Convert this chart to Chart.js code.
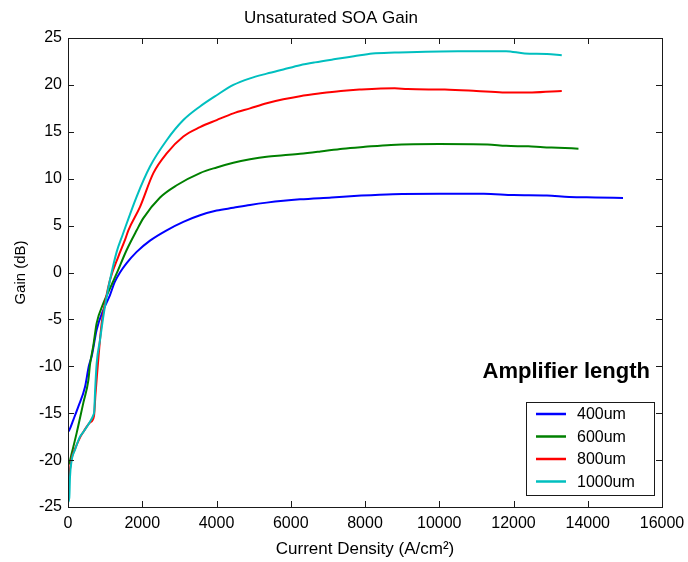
<!DOCTYPE html>
<html>
<head>
<meta charset="utf-8">
<title>Unsaturated SOA Gain</title>
<script src="https://cdn.jsdelivr.net/npm/chart.js@4.4.1/dist/chart.umd.min.js"></script>
<style>
  html, body { margin: 0; padding: 0; background: #fff; }
  canvas { display: block; }
</style>
</head>
<body>
<canvas id="gainChart" width="688" height="562"></canvas>
<script>
// current density (A/cm^2) vs unsaturated gain (dB), one pair of arrays per length
const density400 = [0, 35, 144, 278, 458, 560, 640, 772, 951, 1131, 1260, 1400, 1580, 1850, 2209, 2658, 3107, 3556, 4005, 4454, 4903, 5352, 5800, 6250, 7100, 7900, 8750, 10000, 11200, 12000, 12900, 13500, 14200, 14950];
const gain400 = [-17, -16.8, -15.7, -14.3, -12.2, -10, -8.9, -6.1, -4.0, -2.4, -1.0, 0, 1.0, 2.2, 3.4, 4.5, 5.4, 6.1, 6.6, 6.9, 7.2, 7.45, 7.65, 7.8, 8.0, 8.2, 8.35, 8.4, 8.4, 8.25, 8.2, 8.05, 8.0, 7.95];

const density600 = [0, 35, 99, 234, 413, 548, 593, 682, 772, 951, 1131, 1311, 1580, 1850, 2030, 2479, 2928, 3556, 4005, 4454, 4903, 5352, 5800, 6250, 6800, 7400, 8000, 8700, 10000, 11300, 11800, 12400, 12800, 13200, 13750];
const gain600 = [-20.5, -20.3, -19.3, -17.1, -13.9, -11.5, -9.8, -7.8, -5.4, -3.3, -1.7, -0.1, 2.4, 4.5, 5.8, 8.0, 9.3, 10.6, 11.2, 11.7, 12.07, 12.35, 12.5, 12.65, 12.9, 13.2, 13.4, 13.6, 13.7, 13.65, 13.5, 13.45, 13.35, 13.3, 13.2];

const density800 = [0, 35, 99, 189, 323, 413, 593, 700, 740, 790, 830, 907, 1000, 1131, 1356, 1535, 1626, 1940, 2299, 2658, 3107, 3556, 4005, 4454, 4903, 5352, 5800, 6250, 6800, 7350, 7850, 8800, 9150, 10150, 11000, 11700, 12500, 13300];
const gain800 = [-22.5, -21.5, -19.8, -18.8, -17.6, -17.0, -16.0, -15.3, -13, -10.5, -8.6, -5.4, -3.2, -0.8, 1.7, 3.47, 4.5, 7.0, 10.6, 12.7, 14.5, 15.5, 16.25, 16.97, 17.5, 18.04, 18.46, 18.8, 19.1, 19.35, 19.5, 19.65, 19.55, 19.5, 19.35, 19.2, 19.2, 19.35];

const density1000 = [0, 35, 54, 99, 189, 323, 413, 593, 682, 709, 727, 772, 862, 951, 1041, 1131, 1311, 1470, 1850, 2209, 2658, 3107, 3556, 4005, 4454, 4903, 5352, 5800, 6250, 6650, 7200, 7700, 8200, 8800, 10500, 11800, 12300, 12900, 13300];
const gain1000 = [-24.5, -24, -21.8, -20.0, -18.9, -17.5, -17.0, -15.9, -15.2, -14.7, -12.9, -9.7, -7.2, -4.7, -2.6, -0.8, 2.2, 4.0, 8.1, 11.3, 14.1, 16.25, 17.7, 18.9, 20.0, 20.7, 21.2, 21.65, 22.1, 22.4, 22.75, 23.05, 23.35, 23.45, 23.6, 23.6, 23.35, 23.3, 23.15];

const lengthLabels = ['400um', '600um', '800um', '1000um'];
const xTicks = [0, 2000, 4000, 6000, 8000, 10000, 12000, 14000, 16000];
const yTicks = [-25, -20, -15, -10, -5, 0, 5, 10, 15, 20, 25];

const FONT = "'Liberation Sans', Arial, Helvetica, sans-serif";

function toPoints(xs, ys) {
  return xs.map((x, i) => ({ x: x, y: ys[i] }));
}

function series(label, xs, ys, color, order) {
  return {
    label: label,
    data: toPoints(xs, ys),
    borderColor: color,
    backgroundColor: color,
    borderWidth: 2,
    pointRadius: 0,
    cubicInterpolationMode: 'monotone',
    order: order
  };
}

// box round the plot with inward tick marks on all four sides
const framePlugin = {
  id: 'frame',
  afterDatasetsDraw(chart) {
    const { ctx, chartArea: a, scales: { x, y } } = chart;
    const len = 6;
    ctx.save();
    ctx.strokeStyle = '#1a1a1a';
    ctx.lineWidth = 1;
    ctx.strokeRect(a.left + 0.5, a.top + 0.5, a.right - a.left, a.bottom - a.top);
    ctx.beginPath();
    xTicks.forEach(v => {
      const px = Math.round(x.getPixelForValue(v)) + 0.5;
      ctx.moveTo(px, a.bottom); ctx.lineTo(px, a.bottom - len);
      ctx.moveTo(px, a.top); ctx.lineTo(px, a.top + len);
    });
    yTicks.forEach(v => {
      const py = Math.round(y.getPixelForValue(v)) + 0.5;
      ctx.moveTo(a.left, py); ctx.lineTo(a.left + len, py);
      ctx.moveTo(a.right, py); ctx.lineTo(a.right - len, py);
    });
    ctx.stroke();
    ctx.restore();
  }
};

// legend box inside the plot, lower right, with a bold heading above it
const boxLegendPlugin = {
  id: 'boxLegend',
  afterDraw(chart) {
    const { ctx, chartArea: a } = chart;
    const sets = chart.data.datasets;
    const boxW = 128, boxH = 93, rowH = 22.5;
    const bx = a.right - 8 - boxW, by = a.bottom - 12 - boxH;
    ctx.save();

    ctx.fillStyle = '#000';
    ctx.font = 'bold 22px ' + FONT;
    ctx.textAlign = 'right';
    ctx.textBaseline = 'middle';
    ctx.fillText('Amplifier length', a.right - 12, by - 30);

    ctx.fillStyle = '#fff';
    ctx.fillRect(bx, by, boxW, boxH);
    ctx.strokeStyle = '#1a1a1a';
    ctx.lineWidth = 1;
    ctx.strokeRect(bx + 0.5, by + 0.5, boxW, boxH);

    ctx.font = '16px ' + FONT;
    ctx.textAlign = 'left';
    sets.forEach((ds, i) => {
      const ry = by + 12 + i * rowH;
      ctx.strokeStyle = ds.borderColor;
      ctx.lineWidth = 2.5;
      ctx.beginPath();
      ctx.moveTo(bx + 10, ry);
      ctx.lineTo(bx + 40, ry);
      ctx.stroke();
      ctx.fillStyle = '#000';
      ctx.fillText(ds.label, bx + 51, ry + 1);
    });
    ctx.restore();
  }
};

const ctx = document.getElementById('gainChart').getContext('2d');

new Chart(ctx, {
  type: 'line',
  data: {
    datasets: [
      series(lengthLabels[0], density400, gain400, '#0000ff', 3),
      series(lengthLabels[1], density600, gain600, '#008000', 2),
      series(lengthLabels[2], density800, gain800, '#ff0000', 1),
      series(lengthLabels[3], density1000, gain1000, '#00bfbf', 0)
    ]
  },
  options: {
    responsive: false,
    animation: false,
    layout: { padding: { left: 0, right: 26, top: 0, bottom: 0 } },
    plugins: {
      legend: { display: false },
      tooltip: { enabled: false },
      title: {
        display: true,
        text: 'Unsaturated SOA Gain',
        color: '#000',
        font: { family: FONT, size: 17, weight: 'normal' },
        padding: { top: 8, bottom: 9.6 }
      }
    },
    scales: {
      x: {
        type: 'linear',
        min: 0,
        max: 16000,
        grid: { display: false, drawTicks: false },
        border: { display: false },
        afterBuildTicks: s => { s.ticks = xTicks.map(v => ({ value: v })); },
        afterFit: s => { s.height = 55; s.paddingLeft = 0; s.paddingRight = 0; },
        ticks: {
          color: '#000',
          padding: 7,
          maxRotation: 0,
          autoSkip: false,
          font: { family: FONT, size: 16 },
          callback: v => String(v)
        },
        title: {
          display: true,
          text: 'Current Density (A/cm²)',
          color: '#000',
          font: { family: FONT, size: 17 },
          padding: { top: 0, bottom: 2.4 }
        }
      },
      y: {
        type: 'linear',
        min: -25,
        max: 25,
        grid: { display: false, drawTicks: false },
        border: { display: false },
        afterBuildTicks: s => { s.ticks = yTicks.map(v => ({ value: v })); },
        afterFit: s => { s.width = 68; },
        ticks: {
          color: '#000',
          padding: 6,
          autoSkip: false,
          font: { family: FONT, size: 16 },
          callback: v => String(v)
        },
        title: {
          display: true,
          text: 'Gain (dB)',
          color: '#000',
          font: { family: FONT, size: 15 },
          padding: { top: 12, bottom: 0 }
        }
      }
    }
  },
  plugins: [framePlugin, boxLegendPlugin]
});
</script>
</body>
</html>
